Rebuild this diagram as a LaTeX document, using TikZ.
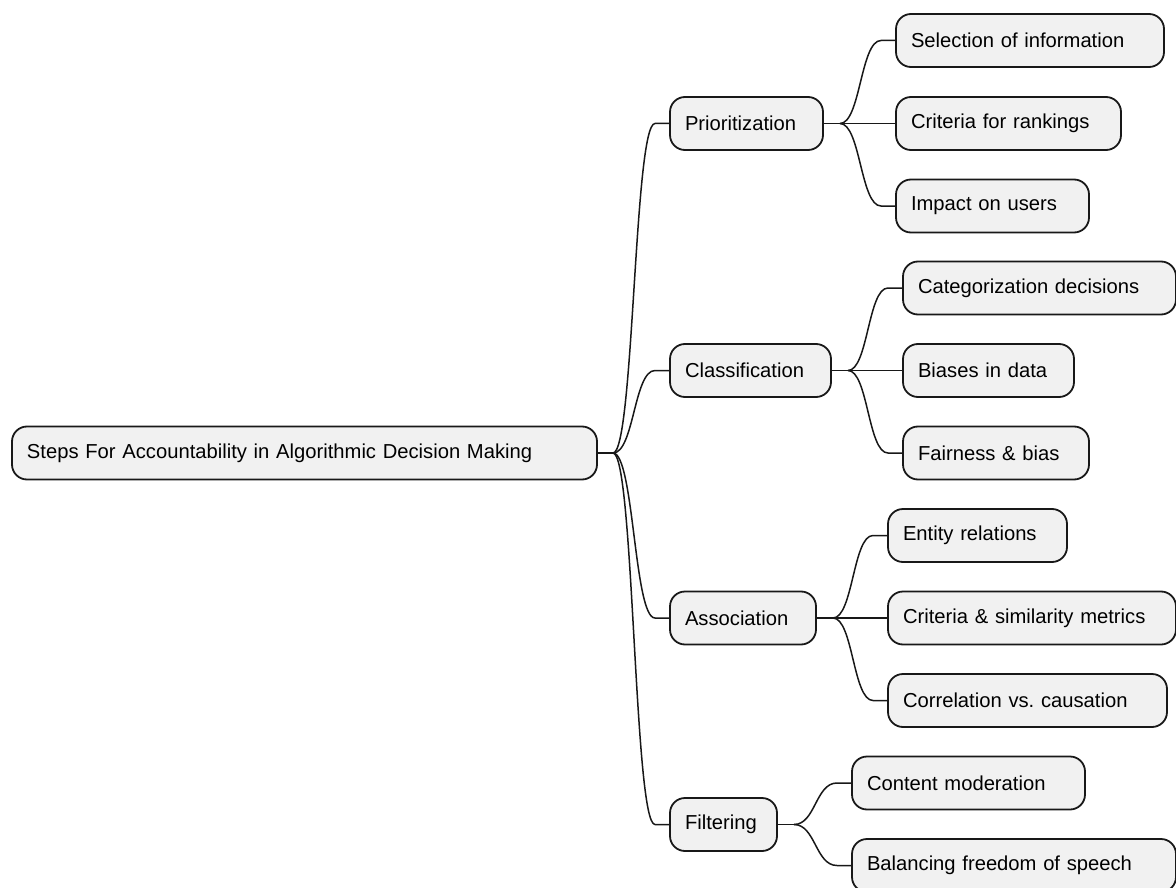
\documentclass[tikz,border=0pt]{standalone}
\usepackage{fontspec}
\setmainfont{Liberation Sans}
\usetikzlibrary{calc}
\definecolor{lineC}{HTML}{181818}
\definecolor{boxC}{HTML}{F1F1F1}
\frenchspacing
\begin{document}
\begin{tikzpicture}[x=1pt,y=-1pt,
  box/.style={draw=lineC, fill=boxC, line width=1.8pt, rounded corners=15pt,
    anchor=west, minimum height=53pt, inner xsep=15pt, inner ysep=0pt,
    outer sep=0pt, align=left, text width=#1,
    font=\fontsize{20.2}{24}\selectfont},
  link/.style={draw=lineC, line width=1.5pt}]
\useasboundingbox (0,0) rectangle (1176,888);
\clip (0,0) rectangle (1176,888);
\newcommand\mmlink[2]{%
  \draw[link] let \p1=(#1), \p2=(#2.west) in
    (\p1) .. controls ({(\x1+\x2-15pt)/2},\y1) and ({(\x1+\x2-15pt)/2},\y2) ..
    ({\x2-15pt},\y2) -- (\p2);}

% root
\node[box=555pt] (root) at (12,453) {Steps For Accountability in Algorithmic Decision Making};

% level 1
\node[box=123pt] (prio)  at (670,123.5) {Prioritization};
\node[box=131pt] (class) at (670,370.5) {Classification};
\node[box=116pt] (assoc) at (670,618) {Association};
\node[box=77pt]  (filt)  at (670,824.5) {Filtering};

% level 2
\node[box=238pt] (sel)     at (896,40.5)  {Selection of information};
\node[box=195pt] (crit)    at (896,123.5) {Criteria for rankings};
\node[box=163pt] (impact)  at (896,206)   {Impact on users};
\node[box=243pt] (categ)   at (903,288)   {Categorization decisions};
\node[box=141pt] (bias)    at (903,370.5) {Biases in data};
\node[box=156pt] (fair)    at (903,453)   {Fairness \& bias};
\node[box=149pt] (entity)  at (888,535.5) {Entity relations};
\node[box=258pt] (critsim) at (888,618)   {Criteria \& similarity metrics};
\node[box=249pt] (corr)    at (888,700.5) {Correlation vs.\ causation};
\node[box=203pt] (content) at (852,783)   {Content moderation};
\node[box=294pt] (balance) at (852,865.5) {Balancing freedom of speech};

% junctions
\draw[link] (root.east)  -- ++(16,0) coordinate (jroot);
\draw[link] (prio.east)  -- ++(17,0) coordinate (jprio);
\draw[link] (class.east) -- ++(17,0) coordinate (jclass);
\draw[link] (assoc.east) -- ++(17,0) coordinate (jassoc);
\draw[link] (filt.east)  -- ++(17,0) coordinate (jfilt);

\mmlink{jroot}{prio}
\mmlink{jroot}{class}
\mmlink{jroot}{assoc}
\mmlink{jroot}{filt}

\mmlink{jprio}{sel}
\mmlink{jprio}{crit}
\mmlink{jprio}{impact}

\mmlink{jclass}{categ}
\mmlink{jclass}{bias}
\mmlink{jclass}{fair}

\mmlink{jassoc}{entity}
\mmlink{jassoc}{critsim}
\mmlink{jassoc}{corr}

\mmlink{jfilt}{content}
\mmlink{jfilt}{balance}
\end{tikzpicture}
\end{document}
